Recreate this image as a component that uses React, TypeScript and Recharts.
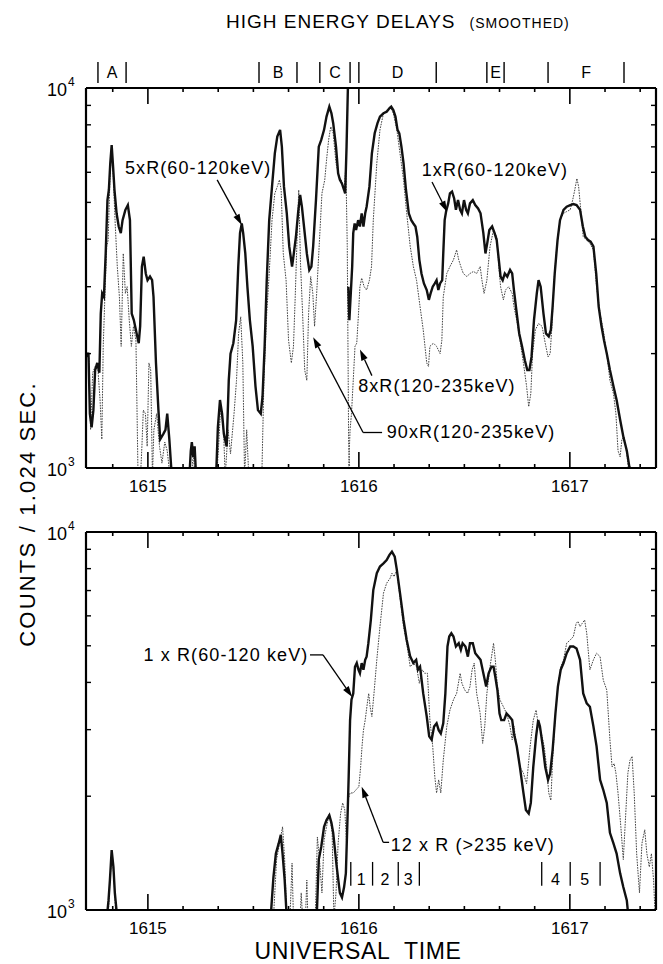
import React from 'react';
import { LineChart, Line, XAxis, YAxis, ReferenceLine, ReferenceDot } from 'recharts';

const FONT = '"Liberation Sans", Arial, Helvetica, sans-serif';

// time axis: seconds after 16:14:00 UT, counts per 1.024 s (log)
const timeDomain: [number, number] = [42.4, 204.5];
const countDomain: [number, number] = [1000, 10000];
const timeTicks = [50, 60, 70, 80, 90, 100, 110, 120, 130, 140, 150, 160, 170, 180, 190, 200];
const minuteTicks = [60, 120, 180];
const minuteLabels = ['1615', '1616', '1617'];
const countTicks = [1000, 2000, 3000, 4000, 5000, 6000, 7000, 8000, 9000, 10000];

const sectionNames = ['A', 'B', 'C', 'D', 'E', 'F'];
const sectionSpans = [[45.8, 53.8], [91.6, 102.4], [108.9, 117.5], [120.0, 142.0], [156.4, 161.3], [173.8, 195.4]];
const phaseNames = ['1', '2', '3', '4', '5'];
const phaseSpans = [[117.7, 123.9], [123.9, 131.2], [131.2, 137.2], [172.0, 180.1], [180.1, 188.6]];

// top panel: 5 x R(60-120 keV)
const t5 = [42.6, 43.1, 43.5, 44.0, 44.5, 45.0, 45.6, 46.2, 46.6, 47.0, 47.5, 48.0, 48.5, 48.9, 49.3, 49.7, 50.1, 50.5, 51.1, 51.7, 52.3, 52.8, 53.6, 54.3, 54.9, 55.4, 56.0, 56.8, 57.4, 57.8, 58.3, 58.8, 59.4, 59.9, 60.6, 61.2, 61.6, 62.3, 63.0, 63.5, 64.4, 65.0, 65.5, 66.1, 66.8, 71.8, 72.2, 72.5, 72.9, 73.3, 73.7, 79.4, 79.9, 80.5, 81.1, 81.6, 82.4, 83.0, 83.5, 84.3, 85.1, 85.7, 86.2, 86.7, 87.1, 87.7, 88.3, 89.0, 89.8, 90.6, 91.3, 92.1, 92.6, 93.2, 93.8, 94.5, 95.3, 96.1, 96.8, 97.6, 98.1, 98.7, 99.5, 100.2, 101.0, 101.5, 102.1, 102.7, 103.3, 103.8, 104.4, 105.2, 105.9, 106.5, 107.0, 107.8, 108.6, 109.3, 110.1, 110.8, 111.6, 112.2, 112.7, 113.5, 114.1, 114.6, 115.2, 115.8, 116.1, 116.5, 116.9, 117.1];
const c5 = [1960, 2010, 1390, 1280, 1420, 1810, 1890, 1780, 2550, 2880, 2820, 3670, 5070, 5390, 6340, 7080, 6210, 5390, 4680, 4320, 4150, 4490, 4780, 4920, 4490, 2550, 2450, 2260, 2130, 2360, 3390, 3600, 3250, 3120, 3190, 3120, 2820, 1890, 1420, 1190, 1230, 1260, 1390, 1190, 950, 950, 1110, 1170, 1070, 1140, 950, 950, 1280, 1510, 1390, 1230, 1140, 1700, 2000, 2130, 2450, 3390, 4150, 4400, 4150, 3670, 3000, 2450, 2090, 1640, 1420, 1390, 1540, 2090, 3120, 4490, 5500, 6730, 7450, 7760, 7010, 5500, 4680, 3830, 3390, 3670, 4060, 4680, 5230, 4870, 4320, 3670, 3320, 3390, 3830, 5070, 7010, 7300, 7760, 8410, 8930, 8580, 8080, 7010, 5960, 5730, 5600, 5390, 5280, 7010, 10200, 13000];

// top panel: 90 x R(120-235 keV)
const t90 = [42.6, 43.2, 43.7, 44.3, 45.0, 45.8, 46.4, 46.9, 47.3, 47.8, 48.3, 48.7, 49.2, 49.7, 50.2, 50.7, 51.3, 51.9, 52.4, 53.0, 53.6, 54.1, 54.7, 55.3, 55.9, 56.6, 57.2, 57.9, 58.3, 58.7, 59.3, 59.8, 60.3, 60.8, 61.3, 61.7, 62.5, 63.3, 64.0, 64.8, 65.5, 66.3, 72.4, 72.9, 73.4, 79.6, 80.1, 80.7, 81.5, 82.0, 82.8, 83.5, 84.5, 85.2, 85.8, 86.4, 87.0, 87.5, 88.1, 88.7, 92.4, 93.0, 93.8, 94.5, 95.3, 96.1, 96.8, 97.4, 97.9, 98.5, 99.3, 100.0, 100.8, 101.4, 101.9, 102.5, 102.9, 103.4, 104.0, 104.6, 105.2, 105.7, 106.3, 106.9, 107.4, 108.0, 108.8, 109.5, 110.3, 110.8, 111.4, 112.0, 112.7, 113.5, 114.3, 115.0, 115.8, 116.3, 116.7, 117.1, 117.5];
const c90 = [2010, 1960, 1260, 1780, 1850, 1810, 1510, 1190, 2090, 2880, 3830, 3980, 5730, 7010, 5730, 4400, 3390, 2820, 2090, 3670, 2880, 3000, 2450, 2090, 2360, 2170, 950, 950, 1140, 1420, 1390, 1140, 1890, 1810, 950, 1260, 1390, 1140, 1030, 1170, 1110, 950, 950, 1090, 950, 950, 1140, 1450, 1260, 950, 1260, 1090, 1390, 1700, 2260, 2500, 1890, 950, 1260, 950, 950, 1700, 2550, 3250, 4490, 5280, 5500, 5730, 5390, 3670, 3120, 2170, 1890, 2090, 2820, 4230, 5390, 3460, 2550, 1810, 1700, 2550, 3190, 2880, 2360, 2880, 3980, 5280, 5730, 6460, 7300, 7910, 7600, 6340, 5850, 5730, 5390, 6210, 3830, 1140, 950];

// top panel: 1 x R(60-120 keV)
const t1 = [117.0, 117.3, 117.7, 118.1, 118.4, 118.8, 119.2, 119.8, 120.3, 120.8, 121.3, 121.8, 122.2, 123.0, 123.7, 124.5, 125.3, 126.0, 127.0, 127.9, 128.7, 129.2, 129.8, 130.4, 131.0, 131.5, 132.1, 132.7, 133.4, 134.2, 134.9, 135.5, 136.1, 136.6, 137.2, 137.8, 138.5, 139.3, 139.9, 140.4, 141.0, 141.6, 142.1, 142.6, 143.1, 143.7, 144.0, 144.4, 144.8, 145.4, 145.9, 146.5, 147.1, 147.6, 148.2, 148.8, 149.3, 149.9, 150.5, 151.0, 151.6, 152.4, 153.1, 153.9, 154.6, 155.4, 156.0, 156.5, 157.1, 157.9, 158.6, 159.2, 159.8, 160.3, 160.9, 161.5, 162.2, 163.0, 163.6, 164.1, 164.9, 165.6, 166.4, 167.2, 167.9, 168.5, 169.1, 169.8, 170.6, 171.1, 171.7, 172.5, 173.2, 174.0, 174.6, 175.1, 175.7, 176.5, 177.2, 178.2, 179.1, 180.1, 181.0, 181.9, 182.9, 183.7, 184.4, 185.2, 185.9, 186.7, 187.5, 188.2, 189.0, 189.7, 190.5, 191.4, 192.4, 193.3, 194.3, 195.2, 196.2, 196.9, 197.5];
const c1 = [3000, 2450, 2880, 3390, 4150, 4400, 4230, 4490, 4320, 4680, 4320, 4680, 4870, 5500, 6730, 7600, 8080, 8410, 8580, 8660, 8840, 8930, 8750, 8410, 7760, 7600, 7010, 6340, 5390, 4680, 4490, 4400, 4320, 4060, 3530, 3250, 3060, 2940, 2770, 2880, 3000, 3060, 3120, 2940, 3060, 3120, 3670, 4490, 4730, 4970, 5280, 5340, 5120, 4780, 5070, 4780, 4680, 5070, 4780, 4680, 4970, 5070, 4920, 4820, 4680, 4150, 3670, 3900, 4230, 4320, 4150, 3980, 3530, 3190, 3120, 3250, 3190, 3320, 3250, 2940, 2550, 2260, 2090, 1920, 1810, 1810, 1960, 2450, 2880, 3120, 3000, 2550, 2260, 2220, 2310, 2660, 3250, 3980, 4490, 4780, 4870, 4920, 4950, 4920, 4780, 4320, 4060, 3980, 3940, 3830, 3250, 2660, 2360, 2170, 2000, 1810, 1640, 1510, 1340, 1210, 1110, 1010, 950];

// top panel: 8 x R(120-235 keV)
const t8 = [117.0, 117.5, 117.9, 118.4, 118.9, 119.4, 119.9, 120.3, 120.8, 121.5, 122.2, 123.0, 123.6, 124.1, 125.1, 126.0, 127.0, 127.9, 128.9, 129.8, 130.8, 131.7, 132.7, 133.6, 134.6, 135.5, 136.4, 137.4, 138.3, 139.3, 139.8, 140.2, 141.2, 142.1, 143.1, 143.6, 144.0, 145.0, 145.9, 146.9, 147.8, 148.4, 149.0, 149.7, 150.7, 151.6, 152.6, 153.5, 154.5, 155.0, 155.6, 156.4, 157.3, 158.3, 159.2, 159.8, 160.3, 161.1, 161.7, 162.6, 163.6, 164.1, 164.9, 165.8, 166.8, 167.7, 168.3, 168.9, 169.4, 170.2, 171.1, 172.1, 173.0, 173.8, 174.4, 174.9, 175.5, 176.3, 177.2, 178.2, 179.1, 180.1, 180.8, 181.4, 182.0, 182.5, 183.1, 183.8, 184.8, 185.7, 186.7, 187.6, 188.6, 189.5, 190.5, 191.4, 192.4, 193.1, 193.7, 194.3, 194.8, 195.4, 196.2, 196.9];
const c8 = [950, 1260, 1390, 1700, 2090, 2130, 2550, 3000, 3160, 3000, 2940, 3120, 3390, 4490, 6340, 7760, 8580, 8750, 8930, 8580, 7760, 6730, 5730, 4680, 3830, 3390, 3120, 2660, 2310, 1890, 1850, 2090, 2130, 2090, 2000, 2170, 2820, 3250, 3390, 3530, 3750, 3530, 3390, 3250, 3190, 3250, 3290, 3250, 3390, 3120, 2880, 3120, 3830, 4230, 4060, 3390, 3000, 2770, 2940, 3000, 2880, 2660, 2450, 2170, 1890, 1640, 1450, 1570, 2000, 2310, 2400, 2360, 2130, 1960, 2000, 2360, 3120, 3830, 4490, 4680, 4730, 4780, 5070, 5390, 5780, 5500, 4780, 4060, 3980, 3900, 3750, 3000, 2550, 2310, 2000, 1700, 1570, 1390, 1110, 1070, 1190, 1210, 1090, 950];

// bottom panel: 1 x R(60-120 keV)
const tB1 = [42.6, 48.3, 48.8, 49.2, 49.7, 50.2, 50.6, 51.3, 94.9, 95.7, 96.4, 97.2, 97.8, 98.3, 98.9, 99.5, 108.0, 108.6, 109.3, 110.1, 110.8, 111.6, 112.2, 112.7, 113.7, 114.6, 115.2, 115.8, 116.3, 116.7, 117.1, 117.5, 117.9, 118.4, 118.9, 119.4, 119.9, 120.3, 120.8, 121.3, 121.8, 122.2, 122.7, 123.4, 124.1, 125.1, 126.0, 127.0, 127.9, 128.7, 129.4, 130.2, 130.8, 131.7, 132.7, 133.6, 134.6, 135.5, 136.3, 136.8, 137.4, 138.3, 139.3, 140.0, 140.7, 141.4, 142.1, 142.7, 143.3, 144.0, 144.6, 145.2, 145.7, 146.3, 146.9, 147.6, 148.4, 149.0, 149.5, 150.3, 151.0, 151.6, 152.4, 153.1, 153.9, 154.6, 155.4, 156.2, 156.9, 157.7, 158.3, 158.8, 159.4, 160.0, 160.5, 161.3, 162.0, 162.8, 163.6, 164.1, 164.9, 165.8, 166.8, 167.5, 168.3, 168.9, 169.6, 170.4, 171.0, 171.5, 172.3, 173.0, 173.8, 174.4, 175.1, 175.9, 176.6, 177.4, 178.2, 179.1, 180.1, 181.0, 181.9, 182.9, 183.8, 184.8, 185.7, 186.7, 187.6, 188.6, 189.5, 190.5, 191.4, 192.4, 193.3, 194.3, 195.2, 196.2, 196.7];
const cB1 = [950, 950, 1060, 1200, 1440, 1300, 1110, 950, 950, 1220, 1410, 1500, 1580, 1410, 1200, 950, 950, 1360, 1470, 1660, 1730, 1780, 1700, 1600, 1300, 1110, 1080, 1150, 1250, 1660, 2250, 3180, 3600, 3740, 4400, 4500, 4320, 4230, 4500, 4320, 4590, 4680, 5080, 5850, 7020, 7780, 8100, 8260, 8430, 8700, 8870, 8600, 7940, 6890, 5850, 5180, 4680, 4500, 4590, 4320, 4400, 3740, 3250, 2880, 2820, 3060, 3120, 2990, 2930, 3120, 3740, 4980, 5290, 5400, 5290, 4980, 5080, 4880, 5080, 4980, 4680, 5080, 5080, 4780, 4680, 4590, 4230, 3900, 4230, 4400, 4400, 4140, 3820, 3310, 3180, 3180, 3310, 3250, 3180, 2930, 2710, 2390, 2040, 1840, 1800, 1920, 2390, 2880, 3180, 3060, 2710, 2390, 2210, 2300, 2650, 3310, 3900, 4320, 4500, 4780, 4980, 4980, 4920, 4590, 3740, 3520, 3450, 3060, 2710, 2210, 2080, 1920, 1600, 1500, 1410, 1250, 1150, 1060, 950];

// bottom panel: 12 x R(>235 keV)
const tB12 = [42.6, 48.7, 49.2, 49.8, 50.4, 50.9, 95.7, 96.6, 97.6, 98.3, 98.9, 99.5, 100.4, 101.0, 101.4, 103.3, 103.6, 104.0, 104.8, 105.2, 105.5, 107.6, 108.2, 108.8, 109.5, 110.1, 110.8, 111.6, 112.4, 112.9, 113.5, 114.1, 114.8, 115.4, 116.0, 116.5, 116.9, 117.5, 118.4, 119.2, 120.0, 120.5, 120.9, 121.3, 121.8, 122.4, 122.8, 123.2, 123.7, 124.3, 125.1, 126.0, 127.0, 127.9, 128.9, 129.4, 130.0, 130.8, 131.3, 131.9, 132.7, 133.6, 134.6, 135.5, 136.4, 137.2, 138.0, 138.7, 139.5, 140.2, 141.0, 141.6, 142.1, 142.7, 143.3, 144.0, 145.0, 145.9, 146.9, 147.8, 148.8, 149.3, 150.1, 150.9, 151.6, 152.2, 152.8, 153.5, 154.5, 155.2, 155.8, 156.4, 157.3, 158.3, 158.8, 159.4, 160.1, 161.1, 162.0, 163.0, 163.6, 164.1, 164.9, 165.8, 166.8, 167.7, 168.7, 169.6, 170.4, 171.1, 171.9, 172.7, 173.4, 174.0, 174.6, 175.1, 175.9, 176.6, 177.4, 178.2, 179.1, 180.1, 181.0, 181.8, 182.3, 182.9, 183.5, 184.2, 184.8, 185.7, 186.7, 187.6, 188.6, 189.5, 190.5, 191.4, 192.0, 192.6, 193.1, 193.7, 194.5, 195.2, 195.8, 196.5, 197.1, 197.7, 198.3, 199.0, 199.8, 200.5, 201.3, 201.9, 202.6, 203.2, 203.8, 204.3];
const cB12 = [950, 950, 1200, 1410, 1200, 950, 950, 1360, 1530, 1660, 1360, 950, 950, 1330, 950, 950, 1110, 950, 950, 1200, 950, 950, 1560, 1360, 1110, 1530, 1660, 1800, 1600, 950, 1110, 1500, 1800, 1920, 1840, 1500, 1950, 2040, 2040, 2080, 2120, 2390, 2710, 2990, 3180, 3520, 3740, 3450, 3250, 3740, 4590, 5620, 6890, 7320, 7550, 7780, 7620, 7940, 7200, 6480, 5620, 5080, 4400, 4500, 4400, 3980, 4320, 4230, 4230, 3180, 2710, 2250, 2040, 2210, 2040, 2490, 3060, 3380, 3600, 3740, 4230, 3980, 3820, 3740, 3900, 4320, 4500, 3740, 3310, 2760, 3060, 3740, 4400, 5080, 4590, 3900, 3600, 3450, 3310, 3060, 2820, 3060, 2710, 2390, 2300, 2160, 2710, 3180, 3380, 3060, 2930, 2710, 2390, 2040, 1950, 2490, 3310, 3900, 4400, 4590, 5080, 5180, 5290, 5730, 5800, 5620, 5730, 5850, 5400, 4320, 4590, 4780, 4680, 4060, 3820, 2820, 2390, 2440, 2300, 2040, 1660, 1360, 1730, 2300, 2490, 2550, 2040, 1410, 1110, 1500, 1630, 1410, 1300, 1410, 1200, 950];

const zip = (t: number[], c: number[]) => t.slice(0, Math.min(t.length, c.length)).map((x, i) => ({ t: x, c: c[i] }));

const sectionBounds = Array.from(new Set(sectionSpans.flat()));
const sectionMids = sectionSpans.map(([a, b]) => (a + b) / 2);
const phaseBounds = Array.from(new Set(phaseSpans.flat()));

const tickLen = (v: number) => (minuteTicks.includes(v) ? 16 : 4);

function BottomTick(props: any) {
  const { x, y, payload } = props;
  const v = payload.value;
  const i = minuteTicks.indexOf(v);
  return (
    <g>
      <line x1={x} x2={x} y1={y} y2={y - tickLen(v)} stroke="#000" strokeWidth={1.6} />
      {i >= 0 && (
        <text x={x} y={y + 24} textAnchor="middle" fontSize={17} fontFamily={FONT} fill="#000">
          {minuteLabels[i]}
        </text>
      )}
    </g>
  );
}

const makeTopTick = (withSections: boolean) => (props: any) => {
  const { x, y, payload } = props;
  const v = payload.value;
  const k = sectionMids.indexOf(v);
  return (
    <g>
      {timeTicks.includes(v) && <line x1={x} x2={x} y1={y} y2={y + tickLen(v)} stroke="#000" strokeWidth={1.6} />}
      {withSections && sectionBounds.includes(v) && (
        <line x1={x} x2={x} y1={y - 5} y2={y - 26} stroke="#000" strokeWidth={1.4} />
      )}
      {withSections && k >= 0 && (
        <text x={x} y={y - 10} textAnchor="middle" fontSize={16} fontFamily={FONT} fill="#000">
          {sectionNames[k]}
        </text>
      )}
    </g>
  );
};

function LeftTick(props: any) {
  const { x, y, payload } = props;
  const v = payload.value;
  if (v === 1000 || v === 10000) {
    return (
      <g fontFamily={FONT} fill="#000">
        <text x={x - 19} y={y + 8} textAnchor="end" fontSize={18}>10</text>
        <text x={x - 18} y={y - 2} fontSize={12}>{Math.round(Math.log10(v))}</text>
      </g>
    );
  }
  return <line x1={x} x2={x + 5} y1={y} y2={y} stroke="#000" strokeWidth={1.4} />;
}

function RightTick(props: any) {
  const { x, y, payload } = props;
  const v = payload.value;
  if (v === 1000 || v === 10000) return <g />;
  return <line x1={x} x2={x - 5} y1={y} y2={y} stroke="#000" strokeWidth={1.4} />;
}

function Arrow(props: any) {
  const { x1, y1, x2, y2 } = props;
  const a = Math.atan2(y2 - y1, x2 - x1);
  const L = 11;
  const Wd = 3.4;
  const bx = x2 - L * Math.cos(a);
  const by = y2 - L * Math.sin(a);
  const pts = `${x2},${y2} ${bx - Wd * Math.sin(a)},${by + Wd * Math.cos(a)} ${bx + Wd * Math.sin(a)},${by - Wd * Math.cos(a)}`;
  return (
    <g>
      <line x1={x1} y1={y1} x2={bx} y2={by} stroke="#000" strokeWidth={1.3} />
      <polygon points={pts} fill="#000" />
    </g>
  );
}

const textShape = (label: string, size = 18) => (p: any) => (
  <text x={p.cx} y={p.cy + 6} textAnchor="middle" fontSize={size} fontFamily={FONT} letterSpacing={1.1} fill="#000">
    {label}
  </text>
);

const thick = { stroke: '#111', strokeWidth: 2.4 };
const dotted = { stroke: '#444', strokeWidth: 1, strokeDasharray: '1.6 1.1' };
const frame = { stroke: '#000', strokeWidth: 2.2 };

// axis boxes are 1px thick (recharts skips axes of zero size); margins compensate
const axes = (withSections: boolean) => [
  <XAxis
    key="xb"
    xAxisId="b"
    dataKey="t"
    type="number"
    domain={timeDomain}
    allowDataOverflow
    ticks={timeTicks}
    interval={0}
    height={1}
    tickSize={0}
    tickMargin={0}
    tick={BottomTick}
    axisLine={frame}
  />,
  <XAxis
    key="xt"
    xAxisId="t"
    orientation="top"
    dataKey="t"
    type="number"
    domain={timeDomain}
    allowDataOverflow
    ticks={
      withSections
        ? Array.from(new Set([...timeTicks, ...sectionBounds, ...sectionMids])).sort((a, b) => a - b)
        : timeTicks
    }
    interval={0}
    height={1}
    tickSize={0}
    tickMargin={0}
    tick={makeTopTick(withSections)}
    axisLine={frame}
  />,
  <YAxis
    key="yl"
    yAxisId="l"
    type="number"
    scale="log"
    domain={countDomain}
    allowDataOverflow
    ticks={countTicks}
    interval={0}
    width={1}
    tickSize={0}
    tickMargin={0}
    tick={LeftTick}
    axisLine={frame}
  />,
  <YAxis
    key="yr"
    yAxisId="r"
    orientation="right"
    type="number"
    scale="log"
    domain={countDomain}
    allowDataOverflow
    ticks={countTicks}
    interval={0}
    width={1}
    tickSize={0}
    tickMargin={0}
    tick={RightTick}
    axisLine={frame}
  />,
];

const ref = { xAxisId: 'b', yAxisId: 'l', ifOverflow: 'visible' as const };

export default function App() {
  return (
    <div style={{ position: 'absolute', left: 0, top: 0, width: 663, height: 964, background: '#fff' }}>
      <div style={{ position: 'absolute', left: 0, top: 0 }}>
        <LineChart width={663} height={500} margin={{ top: 87, right: 6, bottom: 31, left: 85 }}>
          {axes(true)}
          <Line data={zip(t90, c90)} dataKey="c" xAxisId="b" yAxisId="l" dot={false} type="linear" isAnimationActive={false} {...dotted} />
          <Line data={zip(t8, c8)} dataKey="c" xAxisId="b" yAxisId="l" dot={false} type="linear" isAnimationActive={false} {...dotted} />
          <Line data={zip(t5, c5)} dataKey="c" xAxisId="b" yAxisId="l" dot={false} type="linear" isAnimationActive={false} {...thick} />
          <Line data={zip(t1, c1)} dataKey="c" xAxisId="b" yAxisId="l" dot={false} type="linear" isAnimationActive={false} {...thick} />

          <ReferenceDot {...ref} x={74.3} y={6160} r={0} shape={textShape('5xR(60-120keV)')} />
          <ReferenceLine {...ref} segment={[{ x: 79.7, y: 5730 }, { x: 86.7, y: 4360 }]} shape={Arrow} />
          <ReferenceDot {...ref} x={158.7} y={6090} r={0} shape={textShape('1xR(60-120keV)')} />
          <ReferenceLine {...ref} segment={[{ x: 140.8, y: 5660 }, { x: 145.1, y: 4720 }]} shape={Arrow} />
          <ReferenceDot {...ref} x={142.2} y={1640} r={0} shape={textShape('8xR(120-235keV)')} />
          <ReferenceLine {...ref} segment={[{ x: 123.7, y: 1750 }, { x: 120.3, y: 2050 }]} shape={Arrow} />
          <ReferenceDot {...ref} x={151.9} y={1240} r={0} shape={textShape('90xR(120-235keV)')} />
          <ReferenceLine {...ref} segment={[{ x: 126.6, y: 1240 }, { x: 121.2, y: 1240 }]} stroke="#000" strokeWidth={1.3} />
          <ReferenceLine {...ref} segment={[{ x: 121.2, y: 1240 }, { x: 107.0, y: 2210 }]} shape={Arrow} />
        </LineChart>
      </div>

      <div style={{ position: 'absolute', left: 0, top: 500 }}>
        <LineChart width={663} height={464} margin={{ top: 31, right: 6, bottom: 53, left: 85 }}>
          {axes(false)}
          <Line data={zip(tB12, cB12)} dataKey="c" xAxisId="b" yAxisId="l" dot={false} type="linear" isAnimationActive={false} {...dotted} />
          <Line data={zip(tB1, cB1)} dataKey="c" xAxisId="b" yAxisId="l" dot={false} type="linear" isAnimationActive={false} {...thick} />

          <ReferenceDot {...ref} x={82.2} y={4730} r={0} shape={textShape('1 x R(60-120 keV)')} />
          <ReferenceLine {...ref} segment={[{ x: 106.1, y: 4730 }, { x: 109.8, y: 4730 }]} stroke="#000" strokeWidth={1.3} />
          <ReferenceLine {...ref} segment={[{ x: 109.8, y: 4730 }, { x: 118.1, y: 3660 }]} shape={Arrow} />
          <ReferenceDot {...ref} x={152.4} y={1490} r={0} shape={textShape('12 x R (>235 keV)')} />
          <ReferenceLine {...ref} segment={[{ x: 128.6, y: 1510 }, { x: 126.9, y: 1510 }]} stroke="#000" strokeWidth={1.3} />
          <ReferenceLine {...ref} segment={[{ x: 126.9, y: 1510 }, { x: 120.8, y: 2120 }]} shape={Arrow} />

          {phaseBounds.map((b) => (
            <ReferenceLine key={`pb${b}`} {...ref} segment={[{ x: b, y: 1160 }, { x: b, y: 1340 }]} stroke="#000" strokeWidth={1.3} />
          ))}
          {phaseSpans.map(([a, b], i) => (
            <ReferenceDot key={`pn${i}`} {...ref} x={(a + b) / 2} y={1210} r={0} shape={textShape(phaseNames[i], 16)} />
          ))}
        </LineChart>
      </div>

      <svg width={663} height={964} style={{ position: 'absolute', left: 0, top: 0, pointerEvents: 'none' }}>
        <text x={226} y={28} fontFamily={FONT} fill="#000" letterSpacing={1}>
          <tspan fontSize={19}>HIGH ENERGY DELAYS</tspan>
          <tspan dx={14} fontSize={14}>(SMOOTHED)</tspan>
        </text>
        <text
          transform="translate(35, 514) rotate(-90)"
          textAnchor="middle"
          fontSize={22}
          fontFamily={FONT}
          letterSpacing={2.2}
          fill="#000"
        >
          COUNTS / 1.024 SEC.
        </text>
        <text x={358} y={959} textAnchor="middle" fontSize={23} fontFamily={FONT} letterSpacing={0.6} wordSpacing={8} fill="#000">
          UNIVERSAL TIME
        </text>
      </svg>
    </div>
  );
}
